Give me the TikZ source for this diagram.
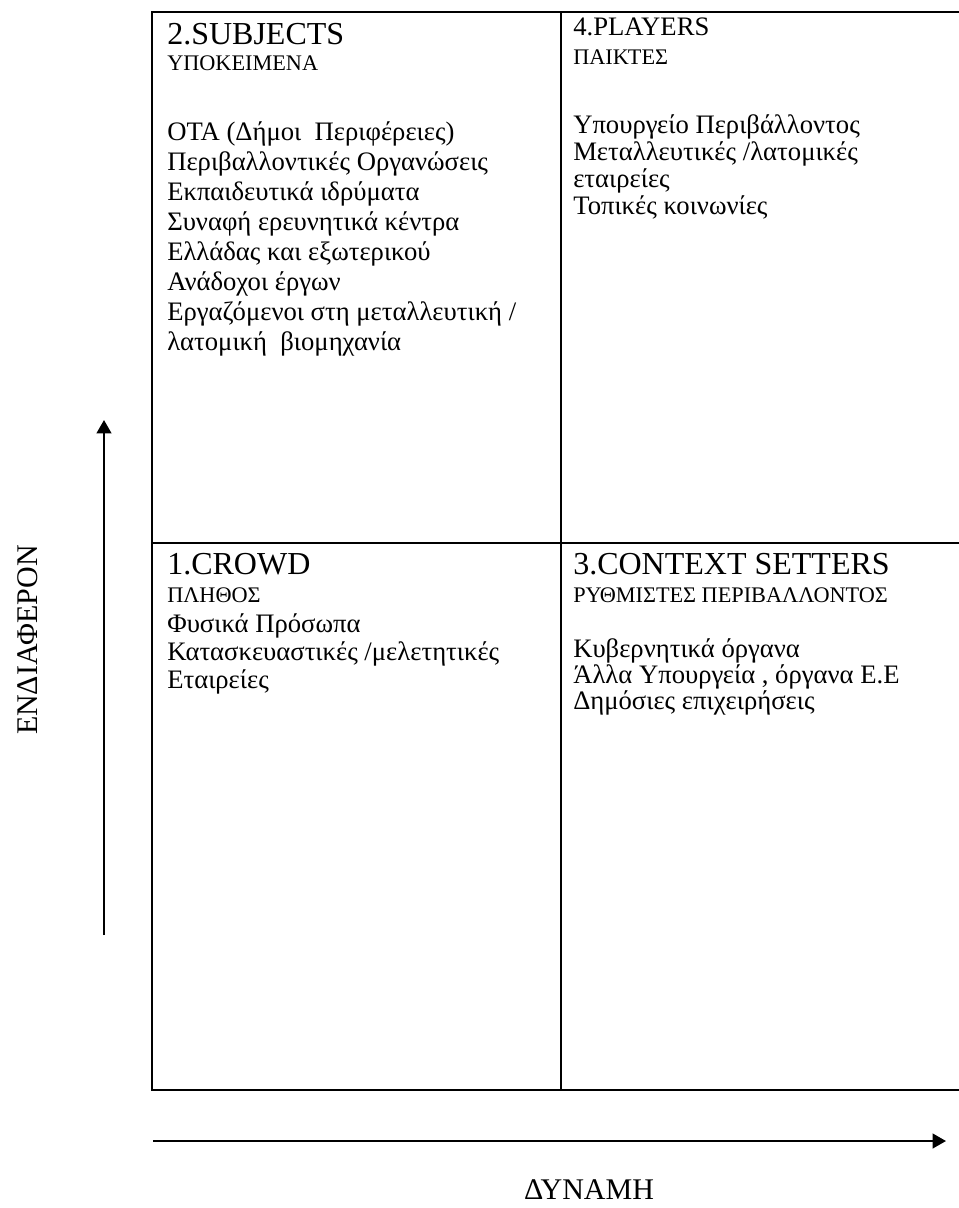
\documentclass[tikz,border=0pt]{standalone}
\usepackage{fontspec}
\setmainfont{Liberation Serif}
\usetikzlibrary{arrows.meta}
\begin{document}
\begin{tikzpicture}[x=0.75pt,y=-0.75pt,
  frame/.style={line width=1.5pt},
  axis/.style={line width=1.5pt,-{Triangle[length=10pt,width=11pt]}},
  head/.style={font=\fontsize{24pt}{26pt}\selectfont,inner sep=0pt,anchor=base west},
  sub/.style={font=\fontsize{16.7pt}{18pt}\selectfont,inner sep=0pt,anchor=base west},
  item/.style={font=\fontsize{20pt}{22pt}\selectfont,inner sep=0pt,anchor=base west},
  axislabel/.style={font=\fontsize{22.5pt}{24pt}\selectfont,inner sep=0pt}]
\useasboundingbox (0,0) rectangle (959,1208);
% frame
\coordinate (tl) at (152,12);
\coordinate (br) at (962,1090);
\coordinate (mt) at (561,12);
\coordinate (mb) at (561,1090);
\coordinate (ml) at (152,543);
\coordinate (mr) at (962,543);
\draw[frame] (tl) rectangle (br);
\draw[frame] (mt) -- (mb);
\draw[frame] (ml) -- (mr);
% quadrant 2
\node[head] (h2) at (167,44) {2.SUBJECTS};
\node[sub] (s2) at (167,70) {ΥΠΟΚΕΙΜΕΝΑ};
\foreach \t [count=\i] in {{ΟΤΑ (Δήμοι~ Περιφέρειες)},{Περιβαλλοντικές Οργανώσεις},{Εκπαιδευτικά ιδρύματα},{Συναφή ερευνητικά κέντρα},{Ελλάδας και εξωτερικού},{Ανάδοχοι έργων},{Εργαζόμενοι στη μεταλλευτική /},{λατομική~ βιομηχανία}}
  \node[item] (q2i\i) at (167,{140+30*(\i-1)}) {\t};
% quadrant 4
\node[item] (h4) at (573,35) {4.PLAYERS};
\node[sub] (s4) at (573,64) {ΠΑΙΚΤΕΣ};
\foreach \t [count=\i] in {{Υπουργείο Περιβάλλοντος},{Μεταλλευτικές /λατομικές},{εταιρείες},{Τοπικές κοινωνίες}}
  \node[item] (q4i\i) at (573,{133+27*(\i-1)}) {\t};
% quadrant 1
\node[head] (h1) at (167,574) {1.CROWD};
\node[sub] (s1) at (167,602) {ΠΛΗΘΟΣ};
\foreach \t [count=\i] in {{Φυσικά Πρόσωπα},{Κατασκευαστικές /μελετητικές},{Εταιρείες}}
  \node[item] (q1i\i) at (167,{632+28*(\i-1)}) {\t};
% quadrant 3
\node[head] (h3) at (573,574) {3.CONTEXT SETTERS};
\node[sub] (s3) at (573,602) {ΡΥΘΜΙΣΤΕΣ ΠΕΡΙΒΑΛΛΟΝΤΟΣ};
\foreach \t [count=\i] in {{Κυβερνητικά όργανα},{Άλλα Υπουργεία , όργανα Ε.Ε},{Δημόσιες επιχειρήσεις}}
  \node[item] (q3i\i) at (573,{657+26*(\i-1)}) {\t};
% axes
\coordinate (va) at (104,935);
\coordinate (vb) at (104,420);
\draw[axis] (va) -- (vb);
\node[axislabel,rotate=90] (ylab) at (28,640) {ΕΝΔΙΑΦΕΡΟΝ};
\coordinate (ha) at (153,1141);
\coordinate (hb) at (946,1141);
\draw[axis] (ha) -- (hb);
\node[axislabel] (xlab) at (589,1190) {ΔΥΝΑΜΗ};
\end{tikzpicture}
\end{document}
